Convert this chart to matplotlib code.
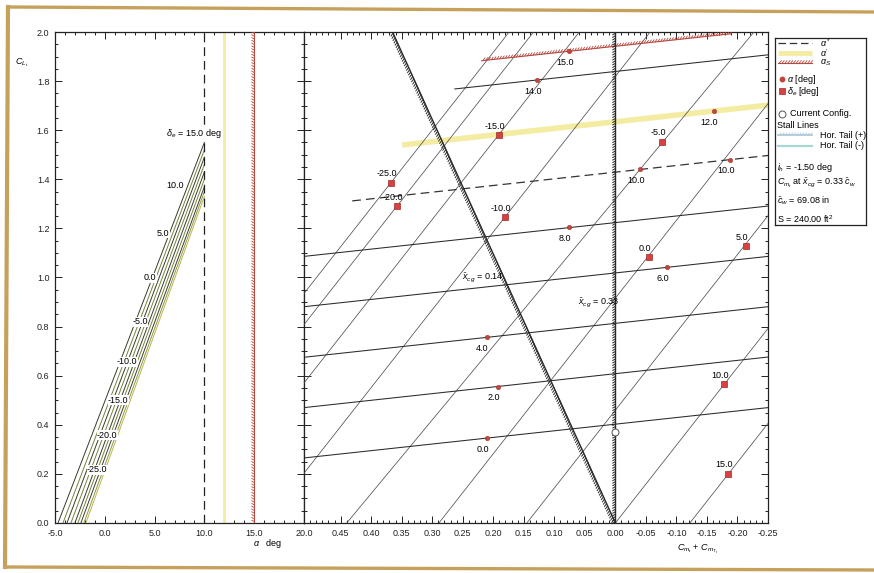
import matplotlib
matplotlib.use("Agg")
import matplotlib.pyplot as plt
import matplotlib.patheffects as pe
from matplotlib.lines import Line2D
from matplotlib.ticker import MultipleLocator, FixedLocator, FormatStrFormatter

plt.rcParams['font.family'] = ['Liberation Sans', 'DejaVu Sans']
plt.rcParams['mathtext.fontset'] = 'custom'
plt.rcParams['mathtext.rm'] = 'Liberation Sans'
plt.rcParams['mathtext.it'] = 'Liberation Sans:italic'
plt.rcParams['mathtext.bf'] = 'Liberation Sans:bold'

# ---------------- lift curves (left panel) ----------------
de_values = [15, 10, 5, 0, -5, -10, -15, -20, -25]
alpha_at_zero_lift = [-4.7, -4.2, -3.8, -3.4, -3.0, -2.7, -2.4, -2.1, -1.9]
cl_at_alpha_star = [1.55, 1.52, 1.49, 1.46, 1.43, 1.40, 1.37, 1.35, 1.33]
alpha_star = 10.0
alpha_prime = 12.0
alpha_stall = 15.0
de_label_alpha = [7.06, 5.85, 4.55, 3.54, 2.24, 1.33, 0.23, -0.78]
de_label_cl = [1.373, 1.181, 0.998, 0.819, 0.656, 0.501, 0.358, 0.216]

# ---------------- trim carpet (right panel) ----------------
trim_alpha = [0, 2, 4, 6, 8, 10, 12, 14, 15]
alpha_cm_start = [0.51, 0.51, 0.51, 0.51, 0.51, 0.431, 0.349, 0.263, 0.219]
alpha_cl_start = [0.265, 0.470, 0.675, 0.881, 1.086, 1.312, 1.540, 1.768, 1.883]
alpha_cm_end = [-0.25, -0.25, -0.25, -0.25, -0.25, -0.25, -0.25, -0.25, -0.19]
alpha_cl_end = [0.470, 0.676, 0.881, 1.086, 1.291, 1.497, 1.702, 1.907, 1.993]

trim_de = [-25, -20, -15, -10, -5, 0, 5, 10, 15]
de_cm_zero_lift = [0.805, 0.765, 0.690, 0.574, 0.440, 0.289, 0.145, 0.000, -0.122]
de_cm_top = [0.174, 0.134, 0.059, -0.057, -0.227, -0.342, -0.486, -0.631, -0.753]
de_cl_top = [2.0] * 9

dot_alpha = ['0.0', '2.0', '4.0', '6.0', '8.0', '10.0', '10.0', '12.0', '14.0', '15.0']
dot_cm = [0.211, 0.192, 0.211, -0.084, 0.076, -0.041, -0.1875, -0.161, 0.128, 0.076]
dot_cl = [0.346, 0.556, 0.756, 1.042, 1.204, 1.440, 1.480, 1.677, 1.804, 1.922]

sq_de = ['-25.0', '-20.0', '-15.0', '-10.0', '-5.0', '0.0', '5.0', '10.0', '15.0']
sq_cm = [0.368, 0.358, 0.190, 0.181, -0.077, -0.055, -0.214, -0.178, -0.185]
sq_cl = [1.385, 1.291, 1.580, 1.246, 1.552, 1.083, 1.128, 0.566, 0.200]

current_cm, current_cl = 0.0, 0.37
xcg_fwd_cm = [0.0, 0.365]
xcg_fwd_cl = [0.0, 2.0]
xcg_ref_cm = [0.0, 0.0]
xcg_ref_cl = [0.0, 2.0]

right_xticks = [0.45, 0.40, 0.35, 0.30, 0.25, 0.20, 0.15, 0.10, 0.05, 0.00,
                -0.05, -0.10, -0.15, -0.20, -0.25]

W, H = 874, 573
fig = plt.figure(figsize=(W / 100, H / 100), dpi=100)
fig.patch.set_facecolor('white')


def rect(x0, y0, x1, y1):
    return [x0 / W, 1 - y1 / H, (x1 - x0) / W, (y1 - y0) / H]


RED = '#c0463e'
HATCH_RED = '#b5493f'
YELLOW = '#f3eca2'
FS = 6.5

axL = fig.add_axes(rect(55, 32, 304, 523))
axR = fig.add_axes(rect(304, 32, 768, 523))

# ---- left panel ----
axL.set_xlim(-5, 20)
axL.set_ylim(0, 2)
bundle_colors = ['#3a3a2a', '#74843a', '#3a3a2a', '#74843a', '#3a3a2a',
                 '#74843a', '#3a3a2a', '#8a9a40', '#bdb552']
for a0, cl, c in zip(alpha_at_zero_lift, cl_at_alpha_star, bundle_colors):
    axL.plot([a0, alpha_star], [0, cl], color=c, lw=0.7, zorder=3)
axL.axvline(alpha_star, color='#222222', lw=0.9, dashes=(7, 4), zorder=4)
axL.axvline(alpha_prime, color=YELLOW, lw=2.0, zorder=2)
axL.axvline(alpha_stall, color=HATCH_RED, lw=0.8, zorder=4,
            path_effects=[pe.withTickedStroke(spacing=2.0, angle=60, length=1.0,
                                              linewidth=0.6)])
axL.text(6.16, 1.585, r'$\delta_e$ = 15.0 deg', fontsize=FS, ha='left', va='center',
         bbox=dict(fc='white', ec='none', pad=0.3), zorder=6)
for lab, a, cl in zip(de_values[1:], de_label_alpha, de_label_cl):
    axL.text(a, cl, f'{lab:.1f}', fontsize=FS, ha='center', va='center',
             bbox=dict(fc='white', ec='none', pad=0.2), zorder=6)

axL.xaxis.set_major_locator(MultipleLocator(5))
axL.xaxis.set_minor_locator(MultipleLocator(1))
axL.xaxis.set_major_formatter(FormatStrFormatter('%.1f'))
axL.yaxis.set_major_locator(MultipleLocator(0.2))
axL.yaxis.set_minor_locator(MultipleLocator(0.05))
axL.yaxis.set_major_formatter(FormatStrFormatter('%.1f'))

# ---- right panel ----
axR.set_xlim(0.51, -0.25)
axR.set_ylim(0, 2)
for c0, c1, cl1 in zip(de_cm_zero_lift, de_cm_top, de_cl_top):
    axR.plot([c0, c1], [0, cl1], color='#505050', lw=0.55, zorder=3)
for a, cs, ls_, ce, le in zip(trim_alpha, alpha_cm_start, alpha_cl_start,
                              alpha_cm_end, alpha_cl_end):
    if a == alpha_star:
        axR.plot([cs, ce], [ls_, le], color='#333333', lw=0.9, dashes=(7, 4), zorder=4)
    elif a == alpha_prime:
        axR.plot([cs, ce], [ls_, le], color=YELLOW, lw=4.0, zorder=2,
                 solid_capstyle='butt')
    elif a == alpha_stall:
        axR.plot([cs, ce], [ls_, le], color=HATCH_RED, lw=0.8, zorder=4,
                 path_effects=[pe.withTickedStroke(spacing=2.0, angle=50, length=1.1,
                                                   linewidth=0.6)])
    else:
        axR.plot([cs, ce], [ls_, le], color='#2a2a2a', lw=0.75, zorder=4)

axR.plot(xcg_fwd_cm, xcg_fwd_cl, color='#2a2a2a', lw=1.0, zorder=5,
         path_effects=[pe.withTickedStroke(spacing=1.8, angle=120, length=1.4,
                                           linewidth=0.7)])
axR.plot(xcg_ref_cm, xcg_ref_cl, color='#2a2a2a', lw=1.0, zorder=5,
         path_effects=[pe.withTickedStroke(spacing=1.8, angle=120, length=1.2,
                                           linewidth=0.7)])
axR.text(0.252, 0.998, r'$\bar{x}_{cg}$ = 0.14', fontsize=FS, ha='left', va='center',
         zorder=6)
axR.text(0.061, 0.896, r'$\bar{x}_{cg}$ = 0.33', fontsize=FS, ha='left', va='center',
         zorder=6)

axR.plot(dot_cm, dot_cl, 'o', color=RED, ms=3.2, mec='#a83a33', mew=0.4, zorder=7)
for lab, x, y in zip(dot_alpha, dot_cm, dot_cl):
    axR.annotate(lab, (x, y), xytext=(-3, -8), textcoords='offset points',
                 fontsize=FS, ha='center', va='center', zorder=7)
axR.plot(sq_cm, sq_cl, 's', color='#d8413f', ms=4.8, mec='#9c2d2a', mew=0.5, zorder=7)
for lab, x, y in zip(sq_de, sq_cm, sq_cl):
    axR.annotate(lab, (x, y), xytext=(-3, 6.5), textcoords='offset points',
                 fontsize=FS, ha='center', va='center', zorder=7)
axR.plot([current_cm], [current_cl], 'o', mfc='white', mec='#555555', ms=5, mew=0.7,
         zorder=8)

axR.xaxis.set_major_locator(FixedLocator(right_xticks))
axR.xaxis.set_minor_locator(MultipleLocator(0.01))
axR.xaxis.set_major_formatter(FormatStrFormatter('%.2f'))
axR.yaxis.set_major_locator(MultipleLocator(0.2))
axR.yaxis.set_minor_locator(MultipleLocator(0.05))
axR.tick_params(axis='y', labelleft=False)

for ax in (axL, axR):
    ax.tick_params(which='both', direction='in', top=True, right=True,
                   labelsize=FS, width=0.7, pad=4, colors='#222222')
    ax.tick_params(which='major', length=5)
    ax.tick_params(which='minor', length=2.5)
    for s in ax.spines.values():
        s.set_linewidth(0.9)
        s.set_color('#222222')

fig.text(253 / W, 1 - 543 / H, r'$\alpha$   deg', fontsize=FS, ha='left', va='center')
fig.text(698 / W, 1 - 549 / H, r'$C_{m_t}$ + $C_{m_{T_t}}$', fontsize=FS,
         ha='center', va='center')
fig.text(22 / W, 1 - 63 / H, r'$C_{L_t}$', fontsize=FS, ha='center', va='center')

# ---- legend panel ----
axG = fig.add_axes(rect(775, 38, 866, 225))
axG.set_xlim(0, 91)
axG.set_ylim(187, 0)
axG.set_xticks([])
axG.set_yticks([])
for s in axG.spines.values():
    s.set_linewidth(0.9)
    s.set_color('#222222')


def yl(py):
    return py - 38


axG.plot([3, 37], [yl(43)] * 2, color='#333333', lw=0.9, dashes=(6, 3))
axG.text(45, yl(43), r'$\alpha^*$', fontsize=FS, va='center')
axG.plot([3, 37], [yl(53)] * 2, color=YELLOW, lw=3.5, solid_capstyle='butt')
axG.text(45, yl(53), r"$\alpha'$", fontsize=FS, va='center')
axG.plot([3, 37], [yl(63)] * 2, color=HATCH_RED, lw=0.8,
         path_effects=[pe.withTickedStroke(spacing=2.0, angle=50, length=1.1,
                                           linewidth=0.6)])
axG.text(45, yl(63), r'$\alpha_S$', fontsize=FS, va='center')
axG.plot([7], [yl(79)], 'o', color=RED, ms=3.2)
axG.text(12, yl(79), r'$\alpha$ [deg]', fontsize=FS, va='center')
axG.plot([7], [yl(91)], 's', color='#d8413f', ms=4.8, mec='#9c2d2a', mew=0.5)
axG.text(12, yl(91), r'$\delta_e$ [deg]', fontsize=FS, va='center')
axG.plot([7], [yl(114)], 'o', mfc='white', mec='#555555', ms=5, mew=0.7)
axG.text(15, yl(114), 'Current Config.', fontsize=FS, va='center')
axG.text(2, yl(125), 'Stall Lines', fontsize=FS, va='center')
axG.plot([3, 37], [yl(135)] * 2, color='#a9c6d6', lw=1.2,
         path_effects=[pe.withTickedStroke(spacing=2.0, angle=50, length=1.0,
                                           linewidth=0.5)])
axG.text(45, yl(135), 'Hor. Tail (+)', fontsize=FS, va='center')
axG.plot([3, 37], [yl(146)] * 2, color='#a8d8d4', lw=1.6)
axG.text(45, yl(146), 'Hor. Tail (-)', fontsize=FS, va='center')
axG.text(2, yl(167), r'$i_h$ = -1.50 deg', fontsize=FS, va='center')
axG.text(2, yl(183), r'$C_{m_t}$ at $\bar{x}_{cg}$ = 0.33 $\bar{c}_w$', fontsize=FS,
         va='center')
axG.text(2, yl(201), r'$\bar{c}_w$ = 69.08 in', fontsize=FS, va='center')
axG.text(2, yl(219), r'S = 240.00 ft$^2$', fontsize=FS, va='center')

# ---- page frame ----
FRAME = '#c6a15b'
for (x0, y0, x1, y1, lw) in [(9, 7, 874, 12, 2.4), (8, 7, 5, 567, 3.0),
                             (5, 567, 874, 570, 2.4)]:
    fig.add_artist(Line2D([x0 / W, x1 / W], [1 - y0 / H, 1 - y1 / H],
                          transform=fig.transFigure, color=FRAME, lw=lw))

fig.savefig('out.png', dpi=100, facecolor='white')
